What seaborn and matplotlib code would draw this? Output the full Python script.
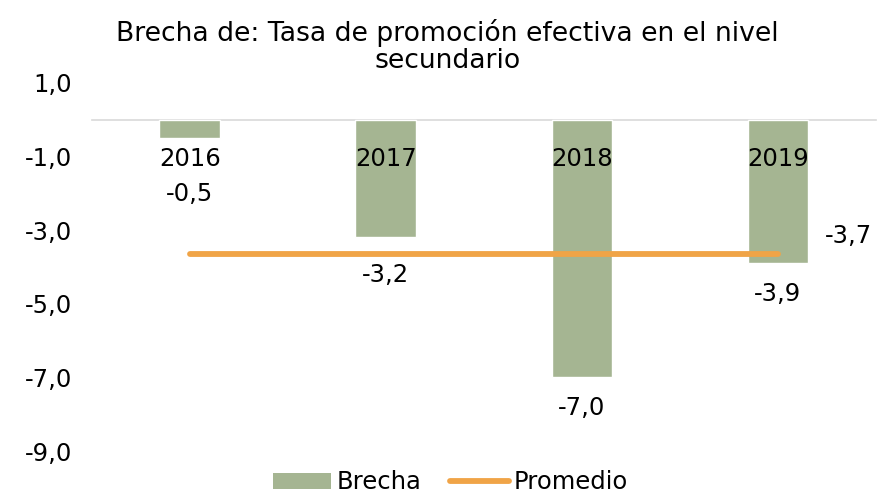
import numpy as np
import pandas as pd
import matplotlib
matplotlib.use('Agg')
import matplotlib.pyplot as plt
from matplotlib.patches import Patch
from matplotlib.lines import Line2D
import seaborn as sns

# Data
years = ['2016', '2017', '2018', '2019']
brecha = [-0.5, -3.2, -7.0, -3.9]
promedio = [-3.65, -3.65, -3.65, -3.65]
promedio_label = '-3,7'

GREEN = '#A5B592'
ORANGE = '#F0A447'

sns.set_style('white')
plt.rcParams['font.family'] = ['DejaVu Sans']
plt.rcParams['text.color'] = 'black'
plt.rcParams['ytick.color'] = 'black'

df = pd.DataFrame({'year': years, 'brecha': brecha, 'promedio': promedio})
df['pos'] = np.arange(len(years))

fig = plt.figure(figsize=(8.83, 4.93), dpi=100)
ax = fig.add_axes([0.104, 0.085, 0.888, 0.747])

sns.barplot(data=df, x='pos', y='brecha', color=GREEN, width=0.31,
            saturation=1, ax=ax, native_scale=True)
sns.lineplot(data=df, x='pos', y='promedio', color=ORANGE, linewidth=4.2,
             solid_capstyle='round', ax=ax)

FS = 17.5
ax.set_ylim(-9, 1)
ax.set_xlim(-0.5, 3.5)
ax.set_yticks([1, -1, -3, -5, -7, -9])
ax.set_yticklabels([f'{v:.1f}'.replace('.', ',') for v in [1, -1, -3, -5, -7, -9]],
                   fontsize=FS)
ax.set_xticks([])
ax.tick_params(axis='y', length=0, pad=14)
ax.set_xlabel('')
ax.set_ylabel('')

for s in ['top', 'right', 'left']:
    ax.spines[s].set_visible(False)
ax.spines['bottom'].set_position(('data', 0))
ax.spines['bottom'].set_color('#D9D9D9')
ax.spines['bottom'].set_linewidth(1.2)
ax.spines['bottom'].set_zorder(0)

# category labels just below the zero line
for i, y in enumerate(years):
    ax.annotate(y, (i, 0), xytext=(0, -28), textcoords='offset points',
                ha='center', va='center', fontsize=FS)

# data labels below bar ends
label_offsets = [-40, -27, -22, -22]
for i, v in enumerate(brecha):
    ax.annotate(f'{v:.1f}'.replace('.', ','), (i, v), xytext=(0, label_offsets[i]),
                textcoords='offset points', ha='center', va='center', fontsize=FS)

ax.annotate(promedio_label, (len(years) - 1, promedio[-1]), xytext=(51, 13),
            textcoords='offset points', ha='center', va='center', fontsize=FS)

fig.text(0.507, 0.905, 'Brecha de: Tasa de promoción efectiva en el nivel\nsecundario',
         ha='center', va='center', fontsize=19.2, linespacing=1.05)

handles = [Patch(facecolor=GREEN, edgecolor='none'),
           Line2D([0], [0], color=ORANGE, linewidth=4.2, solid_capstyle='round')]
fig.legend(handles, ['Brecha', 'Promedio'], loc='center', bbox_to_anchor=(0.51, 0.022),
           ncol=2, frameon=False, fontsize=FS, handlelength=2.4, handleheight=0.65,
           handletextpad=0.2, columnspacing=1.2, borderaxespad=0, borderpad=0)

fig.savefig('out.png', dpi=100)
